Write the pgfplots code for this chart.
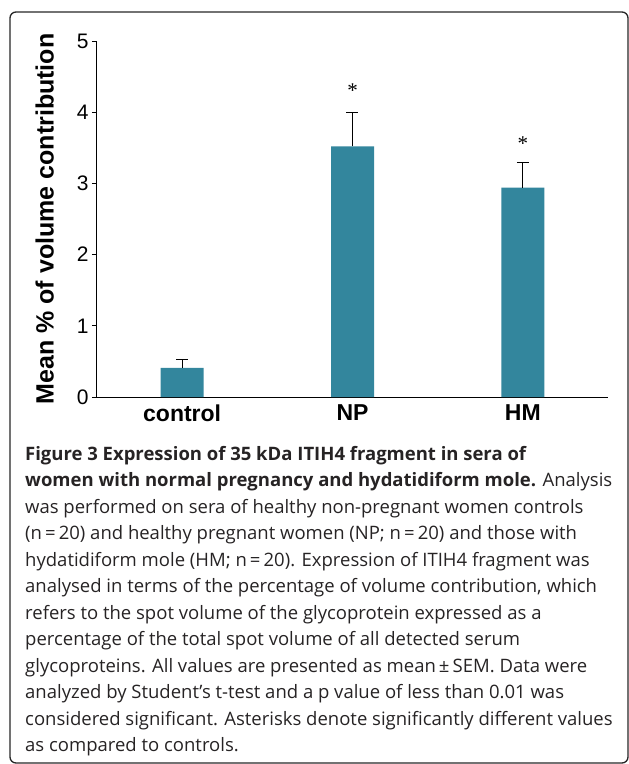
\documentclass[border=0pt]{standalone}
\usepackage{fontspec}
\setmainfont{Open Sans}
\newfontfamily\arialf{Liberation Sans}
\newfontfamily\timesf{Liberation Serif}
\usepackage{pgfplots}
\pgfplotsset{compat=1.18}
\definecolor{barcol}{HTML}{33869D}
\definecolor{captxt}{HTML}{262324}
\begin{document}
\begin{tikzpicture}
\useasboundingbox (0,0) rectangle (629pt,-764pt);
\draw[line width=1.3pt, black!85, rounded corners=6pt] (10pt,-763pt) rectangle (628pt,-12pt);
\begin{axis}[
  at={(97pt,-397pt)}, anchor=south west,
  scale only axis, width=511pt, height=356pt,
  xmin=-0.5, xmax=2.5, ymin=0, ymax=5,
  axis lines=left, axis line style={-, line width=1pt, black},
  xtick={0,1,2}, xticklabels={control,NP,HM},
  ytick={0,1,2,3,4,5},
  x tick style={draw=none},
  y tick style={line width=0.8pt, black},
  tick align=outside, major tick length=5pt,
  /pgf/number format/assume math mode=true,
  yticklabel style={font=\arialf\fontsize{21}{21}\selectfont},
  xticklabel style={font=\arialf\bfseries\fontsize{23}{23}\selectfont, yshift=1pt},
  ylabel={Mean \% of volume contribution},
  ylabel style={font=\arialf\bfseries\fontsize{25}{25}\selectfont},
  ylabel shift=16pt,
  clip=false,
]
\addplot[ybar, bar width=43pt, fill=barcol, draw=none,
  error bars/.cd, y dir=plus, y explicit,
  error bar style={line width=1pt, black},
  error mark options={line width=1pt, black, mark size=6pt, rotate=90}]
  coordinates {(0,0.41) +- (0,0.11) (1,3.52) +- (0,0.47) (2,2.94) +- (0,0.35)};
\node[font=\timesf\fontsize{21}{21}\selectfont] at (axis cs:1,4.30) {*};
\node[font=\timesf\fontsize{21}{21}\selectfont] at (axis cs:2,3.56) {*};
\end{axis}
\begin{scope}[every node/.style={anchor=base west, inner sep=0pt, font=\fontsize{18.5}{18.5}\selectfont, text=captxt}]
\node at (25pt,-460pt) {\bfseries Figure 3 Expression of 35 kDa ITIH4 fragment in sera of};
\node at (25pt,-486.5pt) {\bfseries women with normal pregnancy and hydatidiform mole.\mdseries{} Analysis};
\node at (25pt,-513pt) {was performed on sera of healthy non-pregnant women controls};
\node at (25pt,-539.5pt) {(n\,=\,20) and healthy pregnant women (NP; n\,=\,20) and those with};
\node at (25pt,-566pt) {hydatidiform mole (HM; n\,=\,20). Expression of ITIH4 fragment was};
\node at (25pt,-592.5pt) {analysed in terms of the percentage of volume contribution, which};
\node at (25pt,-619pt) {refers to the spot volume of the glycoprotein expressed as a};
\node at (25pt,-645.5pt) {percentage of the total spot volume of all detected serum};
\node at (25pt,-672pt) {glycoproteins. All values are presented as mean\,±\,SEM. Data were};
\node at (25pt,-698.5pt) {analyzed by Student’s t-test and a p value of less than 0.01 was};
\node at (25pt,-725pt) {considered significant. Asterisks denote significantly different values};
\node at (25pt,-751.5pt) {as compared to controls.};
\end{scope}
\end{tikzpicture}
\end{document}
